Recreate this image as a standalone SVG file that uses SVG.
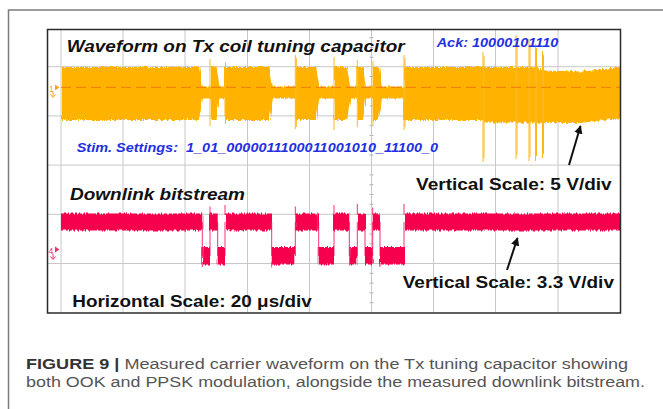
<svg xmlns="http://www.w3.org/2000/svg" width="663" height="409" viewBox="0 0 663 409">
  <style>
    .grid { stroke: #c8c8c8; stroke-width: 1; fill: none; }
    .tick { stroke: #b5b5b5; stroke-width: 1; }
    .lbl { font-family: "Liberation Sans", Arial, sans-serif; font-weight: bold; fill: #111; }
    .it { font-style: italic; }
    .blue { fill: #1f30e2; font-size: 12.8px; }
    .big { font-size: 16.5px; }
    .cap { font-family: "Liberation Sans", Arial, sans-serif; font-size: 15.5px; fill: #555; }
    .ch1 { fill: #ffb300; }
    .ch1s { stroke: #ffb81a; stroke-width: 1; fill: none; }
    .ch4 { fill: #f6004e; }
    .ch4s { stroke: #f8307a; stroke-width: 1; fill: none; }
    .arrow { stroke: #111; stroke-width: 2; fill: none; marker-end: url(#head); }
  </style>
  <defs>
    <marker id="head" viewBox="0 0 10 10" refX="9" refY="5" markerWidth="4.2" markerHeight="4.2" orient="auto" markerUnits="strokeWidth">
      <path d="M0,0 L10,5 L0,10 Z" fill="#111"/>
    </marker>
    <!-- column-wise noise gives the traces their ragged envelope -->
    <filter id="noisy" filterUnits="userSpaceOnUse" x="40" y="20" width="600" height="300">
      <feTurbulence type="fractalNoise" baseFrequency="0.7 0.02" numOctaves="1" seed="7" result="n"/>
      <feDisplacementMap in="SourceGraphic" in2="n" scale="5" xChannelSelector="B" yChannelSelector="G" result="d"/>
      <feMerge>
        <feMergeNode in="d"/>
      </feMerge>
    </filter>
    <clipPath id="screen">
      <rect x="61" y="29" width="559.5" height="283.5"/>
    </clipPath>
  </defs>

  <rect width="663" height="409" fill="#fff"/>

  <!-- page border -->
  <path d="M8.5,409 V10 H663" fill="none" stroke="#7c7c7c" stroke-width="1.5"/>

  <!-- graticule -->
  <g id="graticule">
    <path class="grid" d="M61,29.5 V312.5 M123,29.5 V312.5 M185,29.5 V312.5 M247.5,29.5 V312.5 M309.5,29.5 V312.5 M371.5,29.5 V312.5 M433.5,29.5 V312.5 M495.5,29.5 V312.5 M558,29.5 V312.5"/>
    <path class="grid" d="M48,66.7 H620.5 M48,115.9 H620.5 M48,165.1 H620.5 M48,214.3 H620.5 M48,263.5 H620.5"/>
    <path class="tick" d="M369.5,37.7 h4 M369.5,47.5 h4 M369.5,57.3 h4 M369.5,76.5 h4 M369.5,86.3 h4 M369.5,96.1 h4 M369.5,105.9 h4 M369.5,125.7 h4 M369.5,135.5 h4 M369.5,145.3 h4 M369.5,155.1 h4 M369.5,174.9 h4 M369.5,184.7 h4 M369.5,194.5 h4 M369.5,204.3 h4 M369.5,224.1 h4 M369.5,233.9 h4 M369.5,243.7 h4 M369.5,253.5 h4 M369.5,273.3 h4 M369.5,283.1 h4 M369.5,292.9 h4 M369.5,302.7 h4"/>
  </g>

  <!-- channel 1: carrier on the tuning capacitor -->
  <g id="ch1-trace" clip-path="url(#screen)">
    <g filter="url(#noisy)">
      <rect class="ch1" x="61" y="86.5" width="560" height="12"/>
      <path class="ch1" d="M61,67 H199 L203,88 V98 L199,120 H61 Z"/>
      <path class="ch1" d="M210,66 H216.5 L219.5,88 V98 L216.5,120 H210 Z"/>
      <path class="ch1" d="M225.5,67 H269.5 L273,88 V98 L269.5,120 H225.5 Z"/>
      <path class="ch1" d="M295.3,68.5 L297.5,67 H316 L319.5,88 V98 L316,120 H295.3 Z"/>
      <path class="ch1" d="M334,67 H347 L350.5,88 V98 L347,120 H334 Z"/>
      <path class="ch1" d="M357.3,67 H363 L366,88 V98 L363,120 H357.3 Z"/>
      <path class="ch1" d="M373,67 H379 L382,88 V98 L379,120 H373 Z"/>
      <path class="ch1" d="M404,67 H537 L541,70.5 L583,71.5 L621,67 V118 L580,123 L486,122.5 L482,120 H404 Z"/>
    </g>
    <!-- solid cores of the bursts -->
    <path class="ch1" d="M63,70 H198 V117 H63 Z M212,70 H215 V117 H212 Z M227.5,70 H268 V117 H227.5 Z M297.5,70 H314.5 V117 H297.5 Z M336,70 H345.5 V117 H336 Z M359.3,70 H361.5 V117 H359.3 Z M375,70 H377.5 V117 H375 Z M406,70 H536 V117 H406 Z M540,74 H585 L618,70 V116 L580,120 L540,120 Z M63,89 H618 V96 H63 Z"/>
    <!-- burst-edge transients -->
    <path class="ch1s" d="M210,59 V126 M225.5,62 V124 M295.3,55 V129 M296.3,58 V127 M334,57 V130 M357.3,60 V127 M373,61 V125 M404,55 V130 M405,58 V127"/>
    <!-- PPSK phase-step transients -->
    <path class="ch1s" d="M483,52 V162 M484,56 V158 M516,35 V159 M517,40 V155 M529,39 V161 M530,44 V157 M535.5,44 V161 M536.5,48 V156 M542.5,51 V158 M543.5,55 V154"/>
    <!-- channel 1 reference level -->
    <path d="M61,87.3 H620" stroke="#ee7a10" stroke-width="1" stroke-dasharray="10 5" fill="none"/>
  </g>

  <!-- channel 4: downlink bitstream -->
  <g id="ch4-trace" clip-path="url(#screen)">
    <path class="ch4s" d="M202.3,222 V256 M210,222 V256 M217.7,222 V256 M225,222 V256 M271.7,222 V256 M295.3,222 V256 M318.7,222 V256 M334,222 V256 M349.3,222 V256 M357.3,222 V256 M365,222 V256 M372.7,222 V256 M380,222 V256 M404,222 V256"/>
    <g filter="url(#noisy)">
      <path class="ch4" d="M61,213.5 H202.3 V230.5 H61 Z M210,213.5 H217.7 V230.5 H210 Z M225,213.5 H271.7 V230.5 H225 Z M295.3,213.5 H318.7 V230.5 H295.3 Z M334,213.5 H349.3 V230.5 H334 Z M357.3,213.5 H365 V230.5 H357.3 Z M372.7,213.5 H380 V230.5 H372.7 Z M404,213.5 H622 V230.5 H404 Z"/>
      <path class="ch4" d="M202.3,247 H210 V264.5 H202.3 Z M217.7,247 H225 V264.5 H217.7 Z M271.7,247 H295.3 V264.5 H271.7 Z M318.7,247 H334 V264.5 H318.7 Z M349.3,247 H357.3 V264.5 H349.3 Z M365,247 H372.7 V264.5 H365 Z M380,247 H404 V264.5 H380 Z"/>
    </g>
    <!-- solid cores of the bit levels -->
    <path class="ch4" d="M63,216 H201 V228 H63 Z M211.5,216 H216.5 V228 H211.5 Z M226.5,216 H270.5 V228 H226.5 Z M296.5,216 H317.5 V228 H296.5 Z M335.5,216 H348 V228 H335.5 Z M358.5,216 H364 V228 H358.5 Z M374,216 H379 V228 H374 Z M405.5,216 H620 V228 H405.5 Z M203.5,249.5 H209 V262 H203.5 Z M219,249.5 H224 V262 H219 Z M273,249.5 H294 V262 H273 Z M320,249.5 H333 V262 H320 Z M350.5,249.5 H356 V262 H350.5 Z M366,249.5 H371.5 V262 H366 Z M381.5,249.5 H403 V262 H381.5 Z"/>
    <path class="ch4s" d="M210,206.5 V215 M225,205 V215 M295.3,206.5 V215 M334,205 V215 M357.3,204 V215 M372.7,207.5 V215 M404,204 V215 M202.3,262 V267 M271.7,262 V267.5 M380,262 V267"/>
  </g>

  <!-- channel markers -->
  <g id="ch1-marker" fill="#f5a623">
    <text x="49" y="91.5" font-family="Liberation Sans, Arial, sans-serif" font-size="8.5">1</text>
    <path d="M55,84.5 L59.5,87.5 L55,90.5 Z"/>
    <path d="M53,91.5 V96.5 M50.5,94.5 L53,97.5 L55.5,94.5" stroke="#f5a623" stroke-width="1" fill="none"/>
  </g>
  <g id="ch4-marker" fill="#f0306a">
    <text x="48.5" y="253.5" font-family="Liberation Sans, Arial, sans-serif" font-size="8.5">4</text>
    <path d="M55,246.5 L59.5,249.5 L55,252.5 Z"/>
    <path d="M53,253.5 V258.5 M50.5,256.5 L53,259.5 L55.5,256.5" stroke="#f0306a" stroke-width="1" fill="none"/>
  </g>

  <!-- screen frame -->
  <rect x="47.5" y="29.5" width="573" height="283.5" fill="none" stroke="#2a2a2a" stroke-width="1.5"/>

  <!-- annotations -->
  <g id="labels">
    <text class="lbl it big" x="66.7" y="51.7" textLength="338" lengthAdjust="spacingAndGlyphs">Waveform on Tx coil tuning capacitor</text>
    <text class="lbl it blue" x="436.7" y="47.3" textLength="121.6" lengthAdjust="spacingAndGlyphs">Ack: 10000101110</text>
    <text class="lbl it blue" x="76.7" y="151.7" textLength="361.5" lengthAdjust="spacingAndGlyphs">Stim. Settings:&#160; 1_01_0000011100011001010_11100_0</text>
    <text class="lbl it big" x="70" y="200" textLength="175" lengthAdjust="spacingAndGlyphs">Downlink bitstream</text>
    <text class="lbl big" x="416" y="190" textLength="195.7" lengthAdjust="spacingAndGlyphs">Vertical Scale: 5 V/div</text>
    <text class="lbl big" x="402.7" y="288.3" textLength="211.3" lengthAdjust="spacingAndGlyphs">Vertical Scale: 3.3 V/div</text>
    <text class="lbl big" x="72.3" y="306.7" textLength="239.4" lengthAdjust="spacingAndGlyphs">Horizontal Scale: 20 μs/div</text>
  </g>

  <g id="arrows">
    <path class="arrow" d="M569,165 L580.5,126"/>
    <path class="arrow" d="M507,270 L517.5,238"/>
  </g>

  <!-- caption -->
  <g id="caption">
    <text class="cap" x="26" y="369.3" textLength="602" lengthAdjust="spacingAndGlyphs"><tspan font-weight="bold" fill="#333">FIGURE 9 |</tspan> Measured carrier waveform on the Tx tuning capacitor showing</text>
    <text class="cap" x="26" y="387.3" textLength="619" lengthAdjust="spacingAndGlyphs">both OOK and PPSK modulation, alongside the measured downlink bitstream.</text>
  </g>
</svg>
